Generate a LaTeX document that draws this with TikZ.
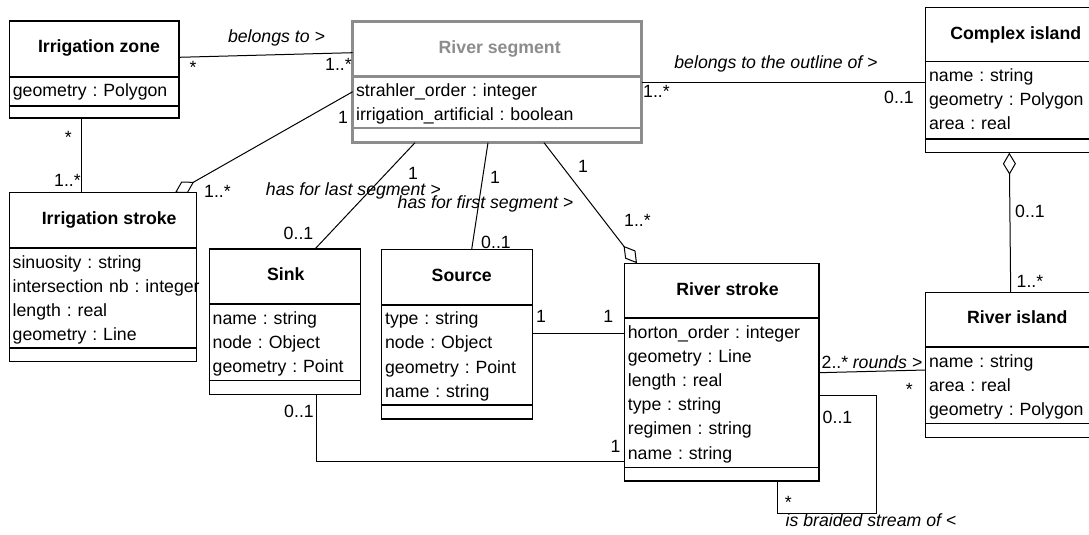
\documentclass[tikz,border=0pt]{standalone}
\usepackage{fontspec}
\setmainfont{Liberation Sans}
\usepackage{tikz}
\usepackage{xcolor}
\usetikzlibrary{calc}
\usetikzlibrary{arrows.meta}
\definecolor{grayedclass}{gray}{.55}
\frenchspacing
\tikzset{
  classbox/.style={draw, line width=.7pt, inner sep=0, outer sep=0, anchor=north west},
  classname/.style={font=\fontsize{8.85}{12.1}\selectfont\bfseries, inner sep=0, anchor=base},
  attrlist/.style={font=\fontsize{8.85}{12.1}\selectfont, inner sep=0, anchor=north west, text width=150pt, align=left},
  compsep/.style={line width=.8pt},
  assoc/.style={line width=.5pt},
  agg/.style={line width=.5pt, -{Diamond[open,length=11pt,width=6.5pt]}},
  mult/.style={font=\fontsize{8.85}{12.1}\selectfont, inner sep=0, anchor=base},
  role/.style={mult, font=\fontsize{8.85}{12.1}\selectfont\itshape}
}

\begin{document}
\begin{tikzpicture}[x=.5pt, y=-.5pt]
      \useasboundingbox (0,0) rectangle (1089,535);
      \clip (0,0) rectangle (1089,535);
      % irrigation zone
      \node [classbox, minimum width=84.75pt, minimum height=48.5pt] (zone) at (9.5,21) {};
      \draw [compsep] ($(zone.north west)+(0,56)$) -- ($(zone.north east)+(0,56)$);
      \draw [compsep] ($(zone.north west)+(0,85)$) -- ($(zone.north east)+(0,85)$);
      \node [classname] (zonename) at ($(zone.north west)+(89.5,32)$) {Irrigation zone};
      \node [attrlist] (zoneattr) at ($(zone.north west)+(3,58.4)$) {\strut geometry : Polygon};
      % river segment
      \node [classbox, draw=grayedclass, line width=1.4pt, minimum width=144.5pt, minimum height=60.5pt] (segment) at (352.7,21.7) {};
      \draw [compsep, draw=grayedclass, line width=1.4pt] ($(segment.north west)+(0,55)$) -- ($(segment.north east)+(0,55)$);
      \draw [compsep, draw=grayedclass, line width=1.4pt] ($(segment.north west)+(0,106.3)$) -- ($(segment.north east)+(0,106.3)$);
      \node [classname, text=grayedclass] (segmentname) at ($(segment.north west)+(147,32)$) {River segment};
      \node [attrlist] (segmentattr) at ($(segment.north west)+(3,57.4)$) {\strut strahler\_order : integer\\irrigation\_artificial : boolean};
      % complex island
      \node [classbox, minimum width=92pt, minimum height=72.7pt] (complex) at (925.7,7.3) {};
      \draw [compsep] ($(complex.north west)+(0,54.4)$) -- ($(complex.north east)+(0,54.4)$);
      \draw [compsep] ($(complex.north west)+(0,132)$) -- ($(complex.north east)+(0,132)$);
      \node [classname] (complexname) at ($(complex.north west)+(90.1,32.5)$) {Complex island};
      \node [attrlist] (complexattr) at ($(complex.north west)+(3,56.8)$) {\strut name : string\\geometry : Polygon\\area : real};
      % irrigation stroke
      \node [classbox, minimum width=93.7pt, minimum height=84.5pt] (irrstroke) at (9.3,192.7) {};
      \draw [compsep] ($(irrstroke.north west)+(0,55.6)$) -- ($(irrstroke.north east)+(0,55.6)$);
      \draw [compsep] ($(irrstroke.north west)+(0,155.6)$) -- ($(irrstroke.north east)+(0,155.6)$);
      \node [classname] (irrstrokename) at ($(irrstroke.north west)+(99.9,32)$) {Irrigation stroke};
      \node [attrlist] (irrstrokeattr) at ($(irrstroke.north west)+(3,58)$) {\strut sinuosity : string\\intersection nb : integer\\length : real\\geometry : Line};
      % sink
      \node [classbox, minimum width=75.7pt, minimum height=72.65pt] (sink) at (209.3,249) {};
      \draw [compsep] ($(sink.north west)+(0,55.3)$) -- ($(sink.north east)+(0,55.3)$);
      \draw [compsep] ($(sink.north west)+(0,131.7)$) -- ($(sink.north east)+(0,131.7)$);
      \node [classname] (sinkname) at ($(sink.north west)+(76.5,32)$) {Sink};
      \node [attrlist] (sinkattr) at ($(sink.north west)+(3,57.7)$) {\strut name : string\\node : Object\\geometry : Point};
      % source
      \node [classbox, minimum width=75.5pt, minimum height=84.85pt] (source) at (381.7,249.3) {};
      \draw [compsep] ($(source.north west)+(0,55.7)$) -- ($(source.north east)+(0,55.7)$);
      \draw [compsep] ($(source.north west)+(0,155.7)$) -- ($(source.north east)+(0,155.7)$);
      \node [classname] (sourcename) at ($(source.north west)+(80,32)$) {Source};
      \node [attrlist] (sourceattr) at ($(source.north west)+(3,58.1)$) {\strut type : string\\node : Object\\geometry : Point\\name : string};
      % river stroke
      \node [classbox, minimum width=97.25pt, minimum height=108.85pt] (stroke) at (624.5,263.3) {};
      \draw [compsep] ($(stroke.north west)+(0,55)$) -- ($(stroke.north east)+(0,55)$);
      \draw [compsep] ($(stroke.north west)+(0,204)$) -- ($(stroke.north east)+(0,204)$);
      \node [classname] (strokename) at ($(stroke.north west)+(103,32)$) {River stroke};
      \node [attrlist] (strokeattr) at ($(stroke.north west)+(3,57.4)$) {\strut horton\_order : integer\\geometry : Line\\length : real\\type : string\\regimen : string\\name : string};
      % river island
      \node [classbox, minimum width=92pt, minimum height=72.5pt] (island) at (925.7,292.3) {};
      \draw [compsep] ($(island.north west)+(0,55)$) -- ($(island.north east)+(0,55)$);
      \draw [compsep] ($(island.north west)+(0,131)$) -- ($(island.north east)+(0,131)$);
      \node [classname] (islandname) at ($(island.north west)+(91.6,31)$) {River island};
      \node [attrlist] (islandattr) at ($(island.north west)+(3,57.4)$) {\strut name : string\\area : real\\geometry : Polygon};
      % associations
      \draw [assoc] ($(zone.north east)+(0,36.3)$) -- ($(segment.north west)+(0,31)$);
      \draw [assoc] ($(zone.south west)+(72.2,0)$) -- ($(irrstroke.north west)+(72.4,0)$);
      \draw [agg] ($(segment.north west)+(0,70)$) -- ($(irrstroke.north west)+(165.7,0)$);
      \draw [assoc] ($(segment.south west)+(62.3,0)$) -- ($(sink.north west)+(105.7,0)$);
      \draw [assoc] ($(segment.south west)+(135.3,0)$) -- ($(source.north west)+(90,0)$);
      \draw [agg] ($(segment.south west)+(191.3,0)$) -- ($(stroke.north west)+(12.5,0)$);
      \draw [assoc] ($(segment.north east)+(0,61)$) -- ($(complex.north west)+(0,75.4)$);
      \draw [agg] ($(island.north west)+(85,0)$) -- ($(complex.south west)+(83.6,0)$);
      \draw [assoc] ($(source.north east)+(0,84.7)$) -- ($(stroke.north west)+(0,70.7)$);
      \draw [assoc] ($(stroke.north east)+(0,109.4)$) -- ($(island.north west)+(0,77.7)$);
      \draw [assoc] ($(sink.south west)+(107.4,0)$) |- ($(stroke.north west)+(0,198.4)$);
      \draw [assoc] ($(stroke.north east)+(0,132.7)$) -| ($(stroke.south west)+(252.2,32.3)$) -| ($(stroke.south west)+(153.2,0)$);
      % multiplicities and roles
      \node [mult] (zonestar) at (193,74) {*};
      \node [mult] (segzone) at (338.5,71) {1..*};
      \node [role] (belongs) at (276.5,42.5) {belongs to >};
      \node [mult] (zonestar2) at (68.3,143.5) {*};
      \node [mult] (irrzone) at (67.5,187) {1..*};
      \node [mult] (segirr) at (343,123.5) {1};
      \node [mult] (irrseg) at (217.5,198) {1..*};
      \node [mult] (seglast) at (413,180) {1};
      \node [mult] (sinkseg) at (298.5,239.5) {0..1};
      \node [role] (lastrole) at (353.3,195.5) {has for last segment >};
      \node [mult] (segfirst) at (495,184) {1};
      \node [mult] (sourceseg) at (496,248.5) {0..1};
      \node [role] (firstrole) at (485.5,208.3) {has for first segment >};
      \node [mult] (segstroke) at (583,172.5) {1};
      \node [mult] (strokeseg) at (637.5,227) {1..*};
      \node [mult] (segoutline) at (656.5,97.5) {1..*};
      \node [mult] (complexseg) at (899,103.5) {0..1};
      \node [role] (outline) at (776,69) {belongs to the outline of >};
      \node [mult] (complexisl) at (1030,218) {0..1};
      \node [mult] (islcomplex) at (1030,288) {1..*};
      \node [mult] (sourcestroke) at (541,322.7) {1};
      \node [mult] (strokesource) at (608.3,322.7) {1};
      \node [mult] (strokeisl) at (835,368.5) {2..*};
      \node [role] (rounds) at (887.5,368.5) {rounds >};
      \node [mult] (islstroke) at (909.3,395) {*};
      \node [mult] (sinkstroke) at (299,417) {0..1};
      \node [mult] (strokesink) at (615.5,452.5) {1};
      \node [mult] (braidone) at (837.5,423) {0..1};
      \node [mult] (braidmany) at (788.3,508.5) {*};
      \node [role] (braided) at (871,526) {is braided stream of <};
    \end{tikzpicture}
\end{document}
